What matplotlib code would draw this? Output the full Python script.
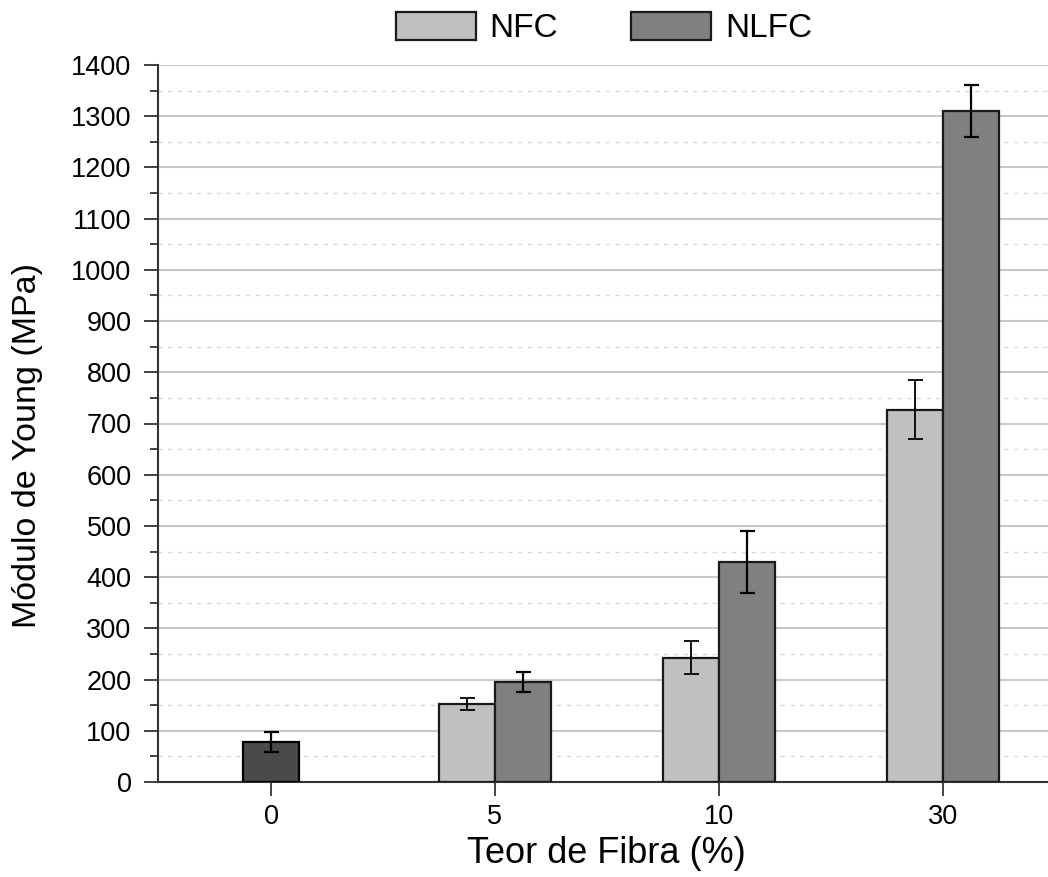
import numpy as np
import matplotlib.pyplot as plt
from matplotlib.ticker import MultipleLocator

plt.rcParams['font.family'] = ['Liberation Sans', 'DejaVu Sans']

categories = ['0', '5', '10', '30']

# matriz pura (0 % fibra)
base_val = 78
base_err = 20

# compósitos
nfc = [152, 243, 727]
nfc_err = [12, 33, 57]
nlfc = [195, 430, 1310]
nlfc_err = [20, 60, 50]

x = np.arange(len(categories))
w = 0.25

fig = plt.figure(figsize=(10.48, 8.77), dpi=100)
ax = fig.add_axes([158 / 1048, 1 - 782 / 877, 1 - 158 / 1048, 717 / 877])

ekw = dict(ecolor='black', elinewidth=1.6, capthick=1.6)

ax.bar(x[0], base_val, w, color='#4a4a4a', edgecolor='black', linewidth=1.6,
       yerr=base_err, capsize=5.4, error_kw=ekw, zorder=3)
ax.bar(x[1:] - w / 2, nfc, w, color='#c0c0c0', edgecolor='#1a1a1a', linewidth=1.6,
       yerr=nfc_err, capsize=5.4, error_kw=dict(ecolor='black', elinewidth=1.3, capthick=1.3),
       label='NFC', zorder=3)
ax.bar(x[1:] + w / 2, nlfc, w, color='#808080', edgecolor='#1a1a1a', linewidth=1.6,
       yerr=nlfc_err, capsize=5.4, error_kw=ekw, label='NLFC', zorder=3)

ax.set_xlim(-0.505, 3.47)
ax.set_ylim(0, 1400)
ax.set_xticks(x)
ax.set_xticklabels(categories)
ax.yaxis.set_major_locator(MultipleLocator(100))
ax.yaxis.set_minor_locator(MultipleLocator(50))

ax.grid(axis='y', which='major', color='#c8c8c8', linewidth=1.5, zorder=0)
ax.grid(axis='y', which='minor', color='#d8d8d8', linewidth=1.0,
        linestyle=(0, (3, 4)), zorder=0)
ax.set_axisbelow(True)

for s in ['top', 'right']:
    ax.spines[s].set_visible(False)
for s in ['left', 'bottom']:
    ax.spines[s].set_color('#333333')
    ax.spines[s].set_linewidth(1.5)

ax.tick_params(axis='both', which='major', direction='out', length=10, width=1.3,
               color='#333333', labelsize=19.5)
ax.tick_params(axis='y', which='minor', direction='out', length=5.5, width=1.3, color='#333333')
ax.tick_params(axis='y', which='major', pad=9)
ax.tick_params(axis='x', which='major', pad=6)

ax.set_xlabel('Teor de Fibra (%)', fontsize=26)
ax.set_ylabel('Módulo de Young (MPa)', fontsize=24.5)
ax.xaxis.set_label_coords(0.504, -0.076)
ax.yaxis.set_label_coords(-0.129, 0.469)

fig.legend(loc='center', bbox_to_anchor=(604 / 1048, 1 - 28 / 877), ncol=2,
           frameon=False, fontsize=24, handlelength=2.4, handleheight=0.9,
           handletextpad=0.4, columnspacing=2.2)

fig.savefig('out.png', dpi=100)
